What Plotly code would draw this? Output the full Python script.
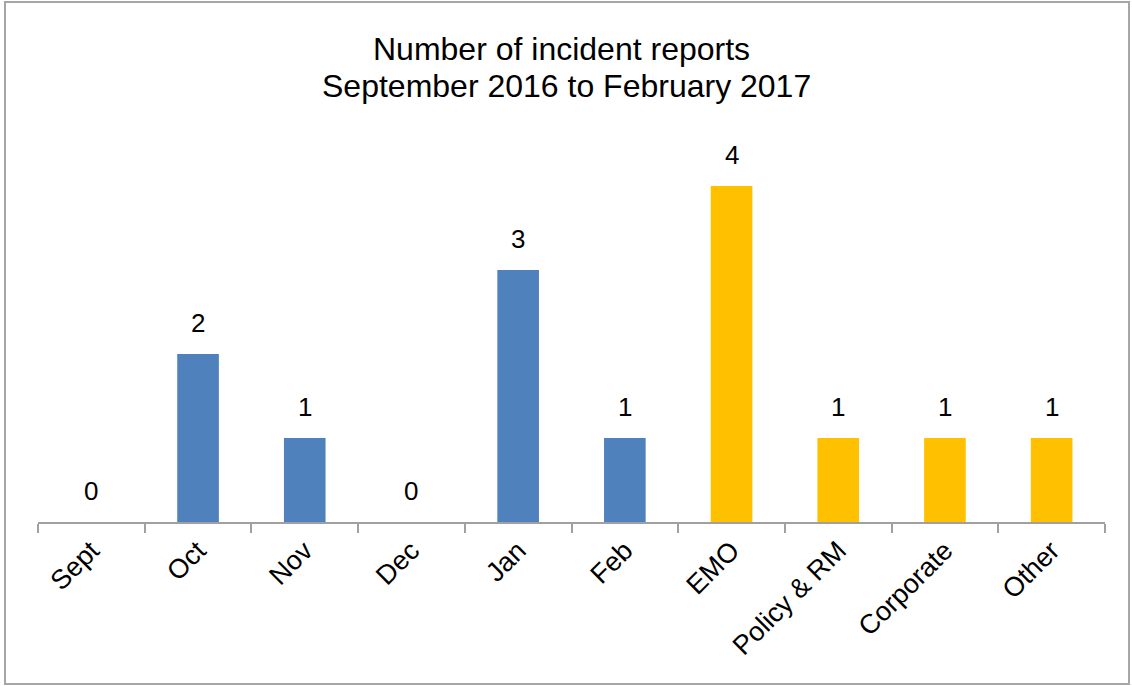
import plotly.graph_objects as go

categories = ["Sept", "Oct", "Nov", "Dec", "Jan", "Feb", "EMO", "Policy & RM", "Corporate", "Other"]
values = [0, 2, 1, 0, 3, 1, 4, 1, 1, 1]
groups = ["month"] * 6 + ["area"] * 4
title_lines = ["Number of incident reports", "September 2016 to February 2017"]

group_colors = {"month": "#4F81BD", "area": "#FFC000"}
colors = [group_colors[g] for g in groups]

FONT = "Liberation Sans, Arial, sans-serif"

fig = go.Figure()
fig.add_trace(go.Bar(
    x=categories, y=values, marker=dict(color=colors, line=dict(width=0)),
    hoverinfo="x+y", showlegend=False,
))

annotations = []
for c, v in zip(categories, values):
    annotations.append(dict(
        x=c, y=v, xref="x", yref="y", text=str(v), showarrow=False,
        yanchor="bottom", yshift=14, font=dict(family=FONT, size=26, color="#000000"),
    ))
top, bottom = 102, 522
for i, line in enumerate(title_lines):
    ypix = [49, 86][i]
    xpix = [561, 566][i]
    annotations.append(dict(
        x=(xpix - 38) / 1067, xref="paper", y=(bottom - ypix) / (bottom - top), yref="paper",
        text=line, showarrow=False,
        xanchor="center", yanchor="middle", font=dict(family=FONT, size=32, color="#000000"),
    ))

fig.update_layout(
    width=1132, height=686,
    margin=dict(l=38, r=27, t=top, b=686 - bottom),
    paper_bgcolor="white", plot_bgcolor="white",
    bargap=0.61,
    annotations=annotations,
    xaxis=dict(
        type="category", showline=True, linecolor="#A0A0A0", linewidth=2,
        ticks="outside", tickson="boundaries", ticklen=9, tickcolor="#A0A0A0", tickwidth=2,
        tickangle=-45, tickfont=dict(family=FONT, size=27, color="#000000"),
        showgrid=False, zeroline=False, automargin=False,
    ),
    yaxis=dict(range=[0, 5], visible=False, showgrid=False, zeroline=False),
    shapes=[dict(
        type="rect", xref="paper", yref="paper",
        x0=(5 - 38) / 1067, x1=(1129 - 38) / 1067,
        y0=(bottom - 684) / (bottom - top), y1=(bottom - 2) / (bottom - top),
        line=dict(color="#A6A6A6", width=2), fillcolor="rgba(0,0,0,0)", layer="below",
    )],
)

fig.write_html("out.html")
